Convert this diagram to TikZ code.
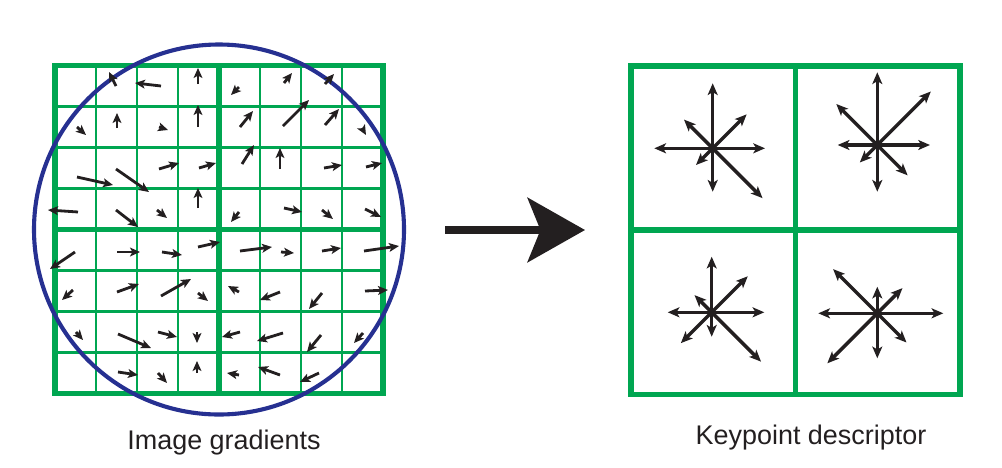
\documentclass[tikz,border=0pt]{standalone}
\usepackage{fontspec}
\setmainfont{Liberation Sans}
\usetikzlibrary{arrows.meta}

\definecolor{gridgreen}{RGB}{0,166,81}
\definecolor{ringblue}{RGB}{38,48,145}
\definecolor{inkblack}{RGB}{35,31,32}

\tikzset{
  grad/.style={line width=2.4pt, inkblack, -{Stealth[length=8.5pt, width=7.5pt, inset=2pt]}},
  desc/.style={line width=2.9pt, inkblack, -{Stealth[length=10pt, width=8.5pt, inset=2.5pt]}},
  thingrid/.style={gridgreen, line width=2.3pt},
  thickgrid/.style={gridgreen, line width=4.6pt},
  caption/.style={font=\fontsize{23}{28}\selectfont, text=inkblack, anchor=base, inner sep=0pt}
}

\begin{document}
\begin{tikzpicture}[x=0.03cm, y=-0.03cm]
\useasboundingbox (0,0) rectangle (1002,467);

% image gradients: 8x8 cells
\begin{scope}[shift={(55,65.5)}]
\foreach \i in {1, 2, 3, 5, 6, 7}{\draw [thingrid] (\i*41, 0) -- (\i*41, 328); \draw [thingrid] (0, \i*41) -- (328, \i*41);}
\draw [thickgrid] (0, 0) rectangle (328, 328);
\draw [thickgrid] (164, 0) -- (164, 328);
\draw [thickgrid] (0, 164) -- (328, 164);
\end{scope}
\draw [ringblue, line width=3.5pt] (219, 229.5) circle [radius=185];

\foreach \xa/\ya/\xb/\yb in {
  116/86/109/72, 161/86/135/83, 198/84/198/68,
  77/127/86/135, 117/128/117/113, 159/127/168/130, 198/127/198/105,
  159/169/179/163, 199/168/216/163, 77/177/113/185, 116/169/149/192,
  198/208/198/188, 78/212/48/210, 116/210/138/227, 157/210/167/218,
  239/87/231/95, 284/83/292/73, 325/84/334/74,
  240/127/253/111, 283/126/309/100, 325/125/339/109, 362/128/366/135,
  242/164/254/145, 280/169/280/148, 324/168/342/165, 366/167/382/163,
  239/212/231/222, 284/208/302/212, 322/210/333/219, 365/209/381/217,
  75/252/50/269, 117/252/140/252, 162/252/182/255, 198/247/220/242,
  73/290/62/300, 117/292/139/284, 161/296/191/279, 198/293/208/301,
  76/332/83/340, 118/334/151/348, 158/332/177/337, 197/332/197/343,
  118/372/138/375, 158/373/167/383, 197/373/197/361,
  240/251/272/247, 281/252/294/253, 322/251/341/248, 364/251/399/246,
  239/292/228/286, 280/292/260/300, 322/293/309/309, 365/291/388/290,
  240/332/222/337, 283/333/257/341, 321/335/307/352, 363/333/354/343,
  239/375/227/373, 280/375/258/367, 319/373/300/382}
  {\draw [grad] (\xa, \ya) -- (\xb, \yb);}

\node [caption] (gradlabel) at (224, 449) {Image gradients};

% arrow between the panels
\coordinate (bigtail) at (445, 230);
\coordinate (bigtip) at (585, 230);
\draw [inkblack, line width=6pt, -{Stealth[length=49pt, width=55pt, inset=11pt]}] (bigtail) -- (bigtip);

% keypoint descriptor: 2x2 cells
\draw [thickgrid] (631, 66) rectangle (960, 394.5);
\draw [thickgrid] (795.5, 66) -- (795.5, 394.5);
\draw [thickgrid] (631, 230) -- (960, 230);

% lengths: up, down, left, right, up-right, up-left, down-left, down-right
\foreach \cx/\cy/\lu/\ld/\ll/\lr/\lur/\lul/\ldl/\ldr in {
  712.7/148.3/65/43.4/58.4/52.3/48/40.6/23.6/70.5,
  877.3/145/72.7/46.7/39.6/52.7/75.7/58/24.7/42.9,
  711.7/312.3/55.6/24.4/44/52.6/51/24.3/43.6/69.8,
  877.3/313.3/26.6/45/59/66/35.6/62.5/70.7/41.3}
  {\foreach \ang/\len in {-90/\lu, 90/\ld, 180/\ll, 0/\lr, -45/\lur, -135/\lul, 135/\ldl, 45/\ldr}
    {\draw [desc] (\cx, \cy) -- ++(\ang:\len);}}

\node [caption] (desclabel) at (811, 444) {Keypoint descriptor};
\end{tikzpicture}
\end{document}
